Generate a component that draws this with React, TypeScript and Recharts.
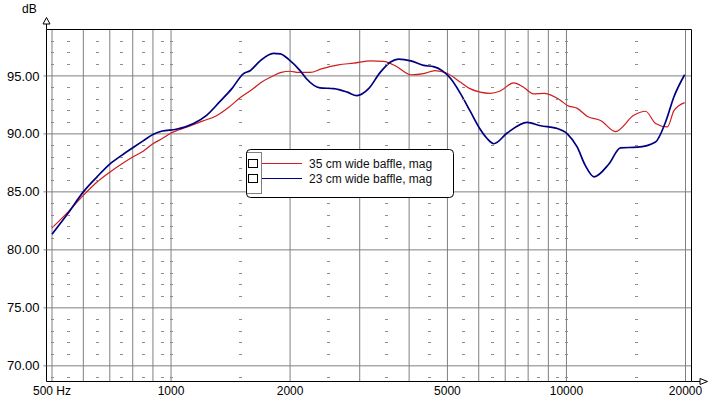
import { LineChart, Line, XAxis, YAxis, ReferenceLine, ReferenceDot, Legend } from "recharts";

// 35 cm wide baffle
const redFreq = [
  500, 550, 600, 650, 700, 750, 800, 850, 900, 950, 1000, 1100, 1200, 1300, 1400, 1500, 1600, 1700,
  1800, 1900, 2000, 2100, 2250, 2400, 2650, 2900, 3200, 3450, 3700, 4050, 4350, 4650, 5000, 5400,
  5700, 6050, 6400, 6800, 7350, 7800, 8250, 8800, 9650, 10050, 10650, 11300, 12200, 13300, 14800,
  15850, 16800, 18000, 18700, 19900,
];
const redDb = [
  81.9, 83.3, 84.7, 85.85, 86.7, 87.4, 88.0, 88.5, 89.15, 89.6, 90.07, 90.6, 91.1, 91.55, 92.3, 93.15,
  93.8, 94.5, 94.95, 95.3, 95.4, 95.3, 95.3, 95.6, 95.95, 96.1, 96.3, 96.25, 95.85, 95.1, 95.2, 95.45,
  95.2, 94.45, 93.9, 93.6, 93.5, 93.7, 94.4, 94.0, 93.45, 93.5, 92.9, 92.45, 92.2, 91.5, 91.15, 90.2,
  91.6, 91.95, 90.9, 90.6, 92.0, 92.7,
];

// 23 cm wide baffle
const blueFreq = [
  500, 550, 600, 650, 700, 750, 800, 850, 900, 950, 1030, 1140, 1230, 1330, 1425, 1525, 1585, 1680,
  1815, 1890, 1980, 2120, 2200, 2380, 2580, 2790, 2950, 3160, 3380, 3590, 3760, 4040, 4350, 4610,
  4850, 5100, 5400, 5700, 6050, 6300, 6550, 7080, 7950, 8600, 9400, 10050, 10650, 11150, 11750,
  12800, 13700, 15100, 16800, 17800, 18700, 19900,
];
const blueDb = [
  81.35, 83.2, 85.0, 86.3, 87.4, 88.15, 88.8, 89.4, 89.95, 90.25, 90.4, 90.9, 91.6, 92.8, 93.9, 95.2,
  95.45, 96.3, 96.95, 96.9, 96.45, 95.45, 94.75, 93.97, 93.9, 93.6, 93.3, 93.9, 95.3, 96.2, 96.45,
  96.3, 95.9, 95.8, 95.45, 94.75, 93.45, 92.0, 90.4, 89.6, 89.15, 90.07, 91.0, 90.7, 90.5, 90.0,
  88.85, 87.3, 86.3, 87.4, 88.8, 88.85, 89.3, 91.0, 93.2, 95.1,
];

const seriesNames = ["35 cm wide baffle, mag", "23 cm wide baffle, mag"];

const xTicks = [500, 1000, 2000, 5000, 10000, 20000];
const yTicks = [70, 75, 80, 85, 90, 95];
const majorFreqs = [500, 600, 700, 800, 900, 1000, 2000, 3000, 4000, 5000, 6000, 7000, 8000, 9000, 10000, 20000];
const minorFreqs = [500, 550, 650, 750, 850, 950, 1000, 1500, 2500, 3500, 4500, 5500, 6500, 7500, 8500, 9500, 10000, 15000];
const minorDb = [69, 71, 72, 73, 74, 76, 77, 78, 79, 81, 82, 83, 84, 86, 87, 88, 89, 91, 92, 93, 94, 96, 97, 98];

const X_MIN = 484.2;
const X_MAX = 20712;
const Y_MIN = 68.65;
const Y_MAX = 99;

const FONT = "'Liberation Sans', Arial, sans-serif";

const redData = redFreq.map((f, i) => ({ f, db: redDb[i] }));
const blueData = blueFreq.map((f, i) => ({ f, db: blueDb[i] }));

function MinorDash(props: any) {
  const x = Math.floor(props.cx);
  const y = Math.floor(props.cy) + 0.5;
  return <line x1={x - 1} x2={x + 2} y1={y} y2={y} stroke="#8c8c8c" strokeWidth={1} />;
}

function LegendBox({ payload }: any) {
  // keep the series order of the reference, not the sorted one
  const items = [...(payload ?? [])].sort(
    (a: any, b: any) => seriesNames.indexOf(a.value) - seriesNames.indexOf(b.value)
  );
  return (
    <svg width={209} height={50} style={{ display: "block" }}>
      <rect x={0.5} y={0.5} width={207} height={48} rx={4} fill="#fff" stroke="#000" />
      <rect x={0.5} y={3.5} width={15} height={41} fill="none" stroke="#000" strokeDasharray="1 1" />
      {items.map((it: any, i: number) => {
        const cy = 14.5 + i * 15;
        return (
          <g key={it.value}>
            <rect x={2.5} y={cy - 4} width={9} height={8} fill="#fff" stroke="#000" />
            <line x1={16} x2={56} y1={cy} y2={cy} stroke={it.color} />
            <text x={63} y={cy + 4.5} fontSize={12} fill="#111" fontFamily={FONT}>
              {it.value}
            </text>
          </g>
        );
      })}
    </svg>
  );
}

export default function App() {
  return (
    <div style={{ position: "relative", width: 721, height: 407, fontFamily: FONT, background: "#fff" }}>
      <style>{"body{margin:0}"}</style>
      <LineChart width={721} height={407} margin={{ top: 29.5, right: 29.5, bottom: 0, left: 0.5 }}>
        <XAxis
          type="number"
          dataKey="f"
          scale="log"
          domain={[X_MIN, X_MAX]}
          allowDataOverflow
          ticks={xTicks}
          interval={0}
          tickFormatter={(v: number) => (v === 500 ? "500 Hz" : String(v))}
          tickLine={false}
          tickSize={0}
          tickMargin={5}
          height={25.5}
          axisLine={{ stroke: "#000" }}
          tick={{ fill: "#000", fontSize: 12 }}
        />
        <YAxis
          type="number"
          domain={[Y_MIN, Y_MAX]}
          allowDataOverflow
          ticks={yTicks}
          interval={0}
          tickFormatter={(v: number) => v.toFixed(2)}
          width={46}
          tickSize={3}
          tickMargin={4}
          tickLine={{ stroke: "#808080" }}
          axisLine={{ stroke: "#000" }}
          tick={{ fill: "#000", fontSize: 13 }}
        />
        {majorFreqs.map((f) => (
          <ReferenceLine key={"vx" + f} x={f} stroke="#808080" ifOverflow="visible" />
        ))}
        {yTicks.map((v) => (
          <ReferenceLine key={"hy" + v} y={v} stroke="#808080" ifOverflow="visible" />
        ))}
        {minorFreqs.map((f) =>
          minorDb.map((v) => (
            <ReferenceDot key={"m" + f + "-" + v} x={f} y={v} r={0} ifOverflow="visible" shape={MinorDash} />
          ))
        )}
        <ReferenceLine y={Y_MAX} stroke="#000" ifOverflow="visible" />
        <ReferenceLine x={X_MAX} stroke="#000" ifOverflow="visible" />
        <Line
          data={redData}
          dataKey="db"
          name={seriesNames[0]}
          type="monotone"
          stroke="#d01c1c"
          strokeWidth={1.2}
          dot={false}
          activeDot={false}
          isAnimationActive={false}
        />
        <Line
          data={blueData}
          dataKey="db"
          name={seriesNames[1]}
          type="monotone"
          stroke="#000080"
          strokeWidth={1.7}
          dot={false}
          activeDot={false}
          isAnimationActive={false}
        />
        <Legend
          layout="vertical"
          align="center"
          verticalAlign="middle"
          content={LegendBox}
          wrapperStyle={{ position: "absolute", left: 246, top: 149, width: 209, height: 50 }}
        />
      </LineChart>
      <svg
        width={721}
        height={407}
        style={{ position: "absolute", left: 0, top: 0, pointerEvents: "none" }}
      >
        <text x={22} y={13} fontSize={12} fill="#000" fontFamily={FONT}>
          dB
        </text>
        <line x1={46.5} x2={46.5} y1={29.5} y2={24} stroke="#000" />
        <polygon points="46.5,17.5 43,24 50,24" fill="#fff" stroke="#000" />
        <line x1={691.5} x2={700} y1={381.5} y2={381.5} stroke="#000" />
        <polygon points="700,378.5 707.5,381.5 700,384.5" fill="#fff" stroke="#000" />
      </svg>
    </div>
  );
}
